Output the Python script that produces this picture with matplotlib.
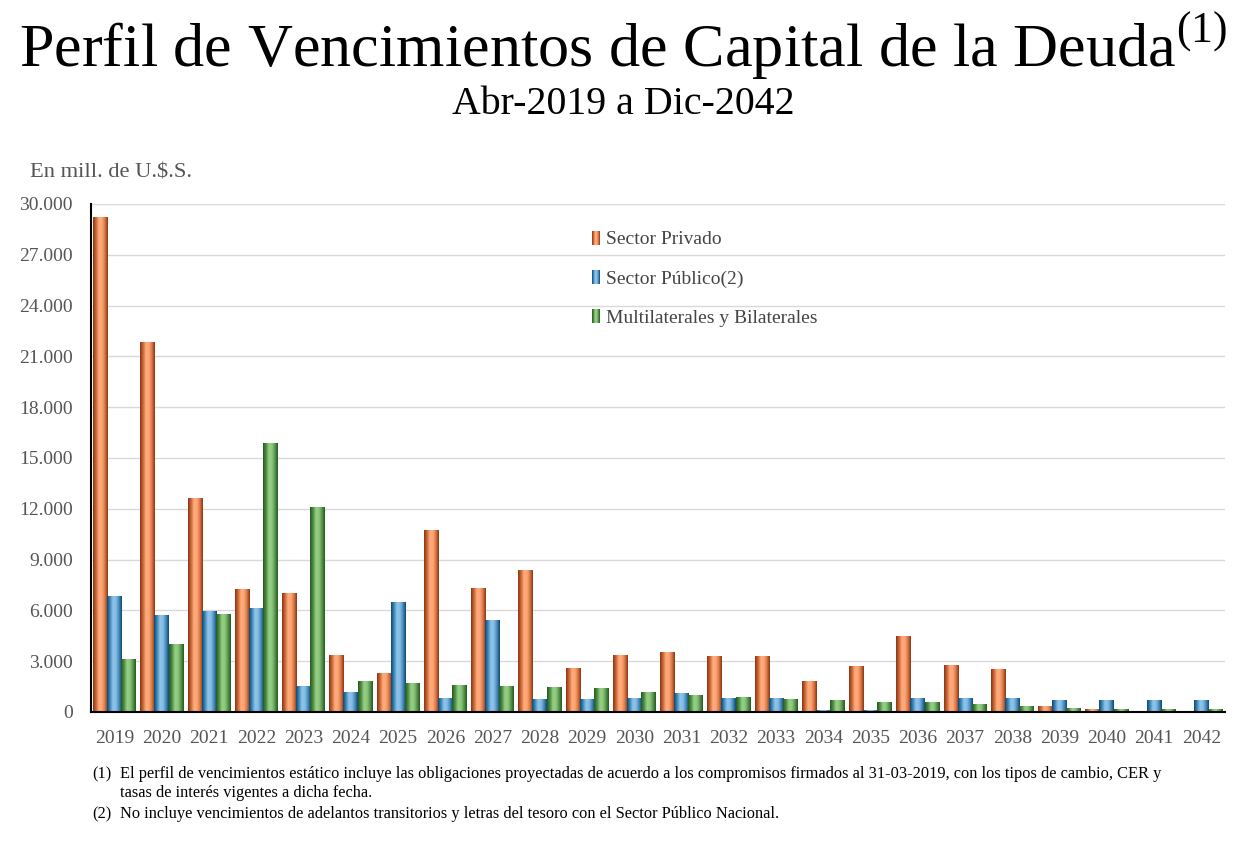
import numpy as np
import matplotlib
matplotlib.use("Agg")
import matplotlib.pyplot as plt
from matplotlib.colors import LinearSegmentedColormap
from matplotlib.legend_handler import HandlerBase
from matplotlib.patches import Rectangle
from matplotlib.ticker import FuncFormatter, MultipleLocator

plt.rcParams['font.family'] = ['Liberation Serif', 'DejaVu Serif']
plt.rcParams['mathtext.fontset'] = 'custom'
plt.rcParams['mathtext.rm'] = 'Liberation Serif'

# ---- data (millones de U$S) ----
years = [str(y) for y in range(2019, 2043)]
privado = [29200, 21800, 12600, 7220, 6980, 3310, 2250, 10710, 7280, 8340,
           2545, 3310, 3490, 3250, 3250, 1775, 2660, 4440, 2720, 2485,
           300, 120, 0, 0]
publico = [6800, 5680, 5950, 6100, 1480, 1180, 6450, 770, 5385, 710,
           710, 770, 1065, 770, 770, 60, 60, 770, 770, 770,
           650, 650, 650, 650]
multilat = [3080, 3960, 5740, 15860, 12070, 1775, 1660, 1540, 1480, 1420,
            1360, 1125, 950, 830, 710, 650, 590, 590, 470, 300,
            180, 120, 120, 120]

series_labels = ["Sector Privado", "Sector Público(2)", "Multilaterales y Bilaterales"]

cmaps = [
    LinearSegmentedColormap.from_list("priv", ["#8c3510", "#c9663a", "#ffac7c", "#ffa674", "#d8784a", "#8c3510"]),
    LinearSegmentedColormap.from_list("pub", ["#0b4a72", "#3f86b8", "#8ec4ea", "#86bde4", "#4a8cbf", "#0b4a72"]),
    LinearSegmentedColormap.from_list("mul", ["#255a1f", "#4f8a45", "#94cf84", "#8dc87c", "#5a9650", "#255a1f"]),
]

W, H = 1251, 859
fig = plt.figure(figsize=(W / 100, H / 100), dpi=100)
ax = fig.add_axes([91 / W, 1 - 712 / H, (1225 - 91) / W, (712 - 204) / H])

x = np.arange(len(years))
width = 0.315
step = 0.30
grad = np.linspace(0, 1, 64).reshape(1, -1)

for i, vals in enumerate([privado, publico, multilat]):
    bars = ax.bar(x + (i - 1) * step, vals, width, color='none', edgecolor='none', zorder=3)
    for b in bars:
        x0, y0 = b.get_x(), b.get_y()
        x1, y1 = x0 + b.get_width(), y0 + b.get_height()
        if y1 - y0 <= 0:
            continue
        ax.imshow(grad, extent=[x0, x1, y0, y1], cmap=cmaps[i], aspect='auto',
                  interpolation='bilinear', zorder=3 + i * 0.1)

ax.set_xlim(-0.5, len(years) - 0.5)
ax.set_ylim(0, 30000)
ax.set_aspect('auto')
ax.yaxis.set_major_locator(MultipleLocator(3000))
ax.yaxis.set_major_formatter(FuncFormatter(lambda v, p: f"{int(v):,}".replace(",", ".")))
ax.set_xticks(x)
ax.set_xticklabels(years)
ax.tick_params(axis='both', length=0, labelsize=14, labelcolor='#555555')
ax.tick_params(axis='x', pad=13)
ax.tick_params(axis='y', pad=13)
ax.grid(axis='y', color='#d9d9d9', linewidth=1.0, zorder=0)
ax.set_axisbelow(True)
for s in ['top', 'right']:
    ax.spines[s].set_visible(False)
for s in ['left', 'bottom']:
    ax.spines[s].set_color('black')
    ax.spines[s].set_linewidth(1.5)
    ax.spines[s].set_zorder(5)


class GradHandler(HandlerBase):
    def __init__(self, cmap):
        super().__init__()
        self.cmap = cmap

    def create_artists(self, legend, orig_handle, xdescent, ydescent, width, height, fontsize, trans):
        n = 8
        arts = []
        for k in range(n):
            r = Rectangle((-xdescent + k * width / n, -ydescent), width / n, height,
                          facecolor=self.cmap((k + 0.5) / n), edgecolor='none', transform=trans)
            arts.append(r)
        return arts


handles = [Rectangle((0, 0), 1, 1) for _ in range(3)]
leg = ax.legend(handles, series_labels, loc='upper left',
                bbox_to_anchor=(574 / W, 1 - 213 / H), bbox_transform=fig.transFigure,
                frameon=False, fontsize=14, labelcolor='#444444',
                handlelength=0.42, handleheight=0.75, handletextpad=0.3, labelspacing=1.1,
                handler_map={h: GradHandler(c) for h, c in zip(handles, cmaps)})

fig.text(623 / W, 1 - 47 / H, r"Perfil de Vencimientos de Capital de la Deuda$^{\mathrm{(1)}}$",
         ha='center', va='center', fontsize=44.8, color='black')
fig.text(623 / W, 1 - 104 / H, "Abr-2019 a Dic-2042", ha='center', va='center', fontsize=28.7, color='black')
fig.text(30 / W, 1 - 173 / H, "En mill. de U.$.S.", ha='left', va='center', fontsize=16.2, color='#555555')

fn_size = 11.8
fig.text(92 / W, 1 - 774 / H, "(1)", ha='left', va='center', fontsize=fn_size)
fig.text(120 / W, 1 - 774 / H,
         "El perfil de vencimientos estático incluye las obligaciones proyectadas de acuerdo a los compromisos firmados al 31-03-2019, con los tipos de cambio, CER y",
         ha='left', va='center', fontsize=fn_size)
fig.text(120 / W, 1 - 793 / H, "tasas de interés vigentes a dicha fecha.", ha='left', va='center', fontsize=fn_size)
fig.text(92 / W, 1 - 814 / H, "(2)", ha='left', va='center', fontsize=fn_size)
fig.text(120 / W, 1 - 814 / H,
         "No incluye vencimientos de adelantos transitorios y letras del tesoro con el Sector Público Nacional.",
         ha='left', va='center', fontsize=fn_size)

fig.savefig("out.png", dpi=100)
